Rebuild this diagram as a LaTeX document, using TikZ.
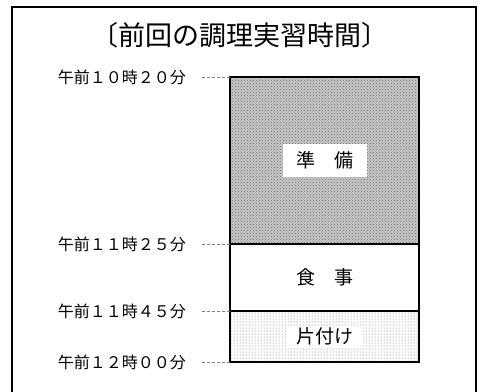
\documentclass[tikz,border=0pt]{standalone}
\usepackage{fontspec}
\setmainfont{Noto Sans CJK JP}
\usepackage{tikz}
\usetikzlibrary{positioning,patterns}

\begin{document}
\begin{tikzpicture}[
    x=1pt,y=1pt,
    seg/.style={draw,line width=1.2pt,minimum width=189pt,outer sep=0pt,inner sep=0pt},
    tag/.style={fill=white,inner sep=0pt,font=\fontsize{19}{21}\selectfont},
    time/.style={inner sep=0pt,font=\fontsize{16}{18}\selectfont},
    leader/.style={draw=gray,line width=0.9pt,dash pattern=on 3pt off 2pt}
  ]
    \useasboundingbox (0,0) rectangle (478,391);
    \draw[line width=2pt] (12,-10) -- (12,384) -- (476,384) -- (476,-10);
    \node[font=\fontsize{27}{30}\selectfont] (title) at (240,356) {〔前回の調理実習時間〕};
    % sections of the lesson
    \node[seg,minimum height=167pt,preaction={fill=gray!45},pattern=crosshatch dots,pattern color=black!55] (prep) at (324.5,230.5) {};
    \node[seg,minimum height=67pt,below=0pt of prep] (meal) {};
    \node[seg,minimum height=51pt,below=0pt of meal,pattern=dots,pattern color=black!60] (clean) {};
    \node[tag,minimum width=84pt,minimum height=33pt] at (prep) {準\quad 備};
    \node[tag] at (meal) {食\quad 事};
    \node[tag,minimum width=76pt,minimum height=22pt] at (clean) {片付け};
    % time marks
    \coordinate[left=28pt of prep.north west] (c1);
    \coordinate[left=28pt of meal.north west] (c2);
    \coordinate[left=28pt of clean.north west] (c3);
    \coordinate[left=28pt of clean.south west] (c4);
    \node[time,left=16pt of c1] (t1) {午前１０時２０分};
    \node[time,left=16pt of c2] (t2) {午前１１時２５分};
    \node[time,left=16pt of c3] (t3) {午前１１時４５分};
    \node[time,left=16pt of c4] (t4) {午前１２時００分};
    \draw[leader] (c1) -- (prep.north west);
    \draw[leader] (c2) -- (meal.north west);
    \draw[leader] (c3) -- (clean.north west);
    \draw[leader] (c4) -- (clean.south west);
  \end{tikzpicture}
\end{document}
